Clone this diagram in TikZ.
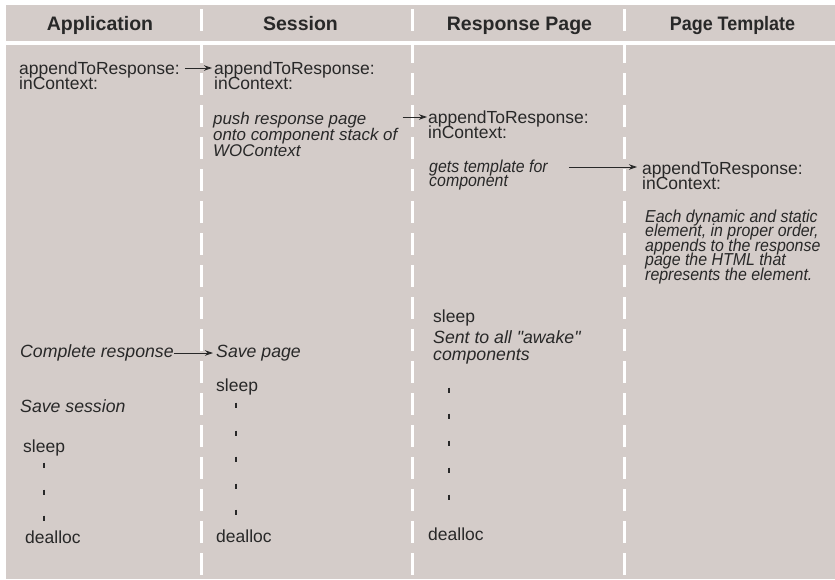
\documentclass[tikz,border=0pt]{standalone}
\usepackage{fontspec}
\setmainfont{Liberation Sans}[Ligatures=TeXOff]
\newfontfamily\condfont{Liberation Sans}[FakeStretch=0.92,Ligatures=TeXOff]
\usetikzlibrary{arrows.meta,calc}
\definecolor{bg}{RGB}{212,204,201}
\definecolor{ink}{RGB}{40,40,40}
\newcommand\ml[1]{\vtop{\lineskiplimit=-50pt\relax\halign{##\hfil\cr#1\crcr}}}
\begin{document}
\begin{tikzpicture}[x=1pt,y=-1pt,
  txt/.style={inner sep=0pt, anchor=base west, text=ink},
  rg/.style={txt, font=\fontsize{17.5}{15.5}\selectfont},
  itn/.style={txt, font=\fontsize{17.7}{17}\selectfont\itshape},
  itp/.style={txt, font=\fontsize{16.9}{16}\selectfont\itshape},
  itc/.style={txt, font=\condfont\fontsize{17.3}{14.5}\selectfont\itshape},
  hdr/.style={inner sep=0pt, anchor=base, text=ink, font=\fontsize{19.5}{20}\selectfont\bfseries},
  sep/.style={white, line width=3pt, dash pattern=on 22pt off 10pt},
  band/.style={white, line width=4pt},
  tick/.style={ink, line width=1.1pt},
  arr/.style={ink, line width=0.9pt, -{Stealth[length=8pt,width=5.5pt]}}]
\useasboundingbox (0,0) rectangle (835,579);
\fill[bg] (6,5) rectangle (835,579);
\draw[band] (6,43) -- (835,43);
\foreach \x in {201,412,624} \draw[sep] (\x,9) -- (\x,579);
% headers
\node[hdr] (h1) at (100,30) {Application};
\node[hdr] (h2) at (300.5,30) {Session};
\node[hdr] (h3) at (519.5,30) {Response Page};
\node[hdr, font=\condfont\fontsize{19.5}{20}\selectfont\bfseries] (h4) at (732.5,30) {Page Template};
% Application column
\node[rg] (a1) at (19,74) {\ml{appendToResponse:\cr inContext:}};
\node[itn] (a2) at (20,357) {Complete response};
\node[itn] (a3) at (20,412) {Save session};
\node[rg] (a4) at (23,452) {sleep};
\node[rg] (a5) at (25,543) {dealloc};
% Session column
\node[rg] (s1) at (214,74) {\ml{appendToResponse:\cr inContext:}};
\node[itp] (s2) at (213,124) {\ml{push response page\cr onto component stack of\cr WOContext}};
\node[itn] (s3) at (216,357) {Save page};
\node[rg] (s4) at (216,391) {sleep};
\node[rg] (s5) at (216,542) {dealloc};
% Response Page column
\node[rg] (r1) at (428,123) {\ml{appendToResponse:\cr inContext:}};
\node[itc] (r2) at (429,172) {\ml{gets template for\cr component}};
\node[rg] (r3) at (433,322) {sleep};
\node[itn] (r4) at (433,343) {\ml{Sent to all "awake"\cr components}};
\node[rg] (r5) at (428,540) {dealloc};
% Page Template column
\node[rg] (p1) at (642,174) {\ml{appendToResponse:\cr inContext:}};
\node[itc] (p2) at (645,222) {\ml{Each dynamic and static\cr element, in proper order,\cr appends to the response\cr page the HTML that\cr represents the element.}};
% arrows
\coordinate (a1t) at ($(a1.base east)+(5,-6)$);
\coordinate (s1h) at ($(s1.base west)+(-2,-6)$);
\draw[arr] (a1t) -- (s1h);
\coordinate (r1h) at ($(r1.base west)+(-1,-6)$);
\coordinate (s2t) at ($(s2.east |- r1h)+(5,0)$);
\draw[arr] (s2t) -- (r1h);
\coordinate (p1h) at ($(p1.base west)+(-5,-7)$);
\coordinate (r2t) at ($(r2.east |- p1h)+(21,0)$);
\draw[arr] (r2t) -- (p1h);
\coordinate (a2t) at ($(a2.base east)+(0,-4)$);
\coordinate (s3h) at ($(s3.base west)+(-3,-4)$);
\draw[arr] (a2t) -- (s3h);
% continuation ticks
\foreach \y in {465,492,518} \draw[tick] (44,\y-2.5) -- (44,\y+2.5);
\foreach \y in {405,433,459,486,512} \draw[tick] (236,\y-2.5) -- (236,\y+2.5);
\foreach \y in {390,416,443,470,497} \draw[tick] (449,\y-2.5) -- (449,\y+2.5);
\end{tikzpicture}
\end{document}
